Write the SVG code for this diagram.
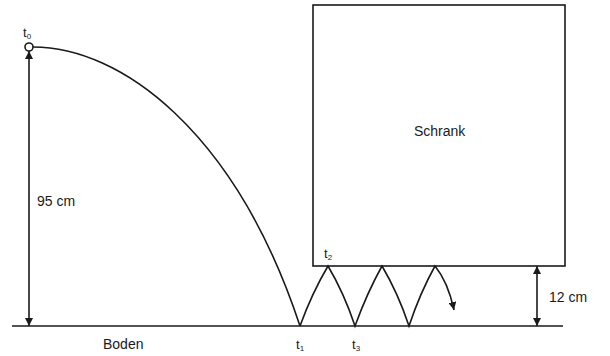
<svg xmlns="http://www.w3.org/2000/svg" width="610" height="356" viewBox="0 0 610 356">
<style>
.ln{fill:none;stroke:#1a1a1a;stroke-width:1.6}
.tx{font-family:"Liberation Sans",Arial,sans-serif;font-size:14px;fill:#1a1a1a}
.tl{font-family:"Liberation Sans",Arial,sans-serif;font-size:13px;fill:#1a1a1a}
.sb{font-size:8px}
</style>
<defs>
<marker id="ah" viewBox="0 0 10 10" refX="10" refY="5" markerWidth="8" markerHeight="8" markerUnits="userSpaceOnUse" orient="auto-start-reverse">
<path d="M0,0 L10,5 L0,10 z" fill="#1a1a1a"/>
</marker>
</defs>
<g id="boden">
<line class="ln" x1="12" y1="326" x2="563" y2="326"/>
<text class="tx" x="103" y="349">Boden</text>
</g>
<g id="schrank">
<rect class="ln" x="313" y="5" width="252" height="261"/>
<text class="tx" x="414" y="136">Schrank</text>
</g>
<g id="ball">
<circle class="ln" cx="29" cy="47" r="4" fill="#fff"/>
<text class="tl" x="23" y="37">t<tspan class="sb" dy="2">0</tspan></text>
</g>
<g id="labels">
<text class="tl" x="296" y="349">t<tspan class="sb" dy="2">1</tspan></text>
<text class="tl" x="324" y="258">t<tspan class="sb" dy="2">2</tspan></text>
<text class="tl" x="352" y="349">t<tspan class="sb" dy="2">3</tspan></text>
<text class="tx" x="37" y="206">95 cm</text>
<text class="tx" x="549" y="302">12 cm</text>
</g>
<g id="connectors">
<line class="ln" x1="29" y1="51" x2="29" y2="326" marker-start="url(#ah)" marker-end="url(#ah)"/>
<line class="ln" x1="537" y1="266" x2="537" y2="326" marker-start="url(#ah)" marker-end="url(#ah)"/>
<path class="ln" d="M33,47 C120,47 235,130 300,326"/>
<path class="ln" d="M300,326 Q312,293 328,266 Q344,293 355,326 Q367,293 382,266 Q398,293 409,326 Q420,293 435,266 Q448,282 454,310" marker-end="url(#ah)"/>
</g>
</svg>
